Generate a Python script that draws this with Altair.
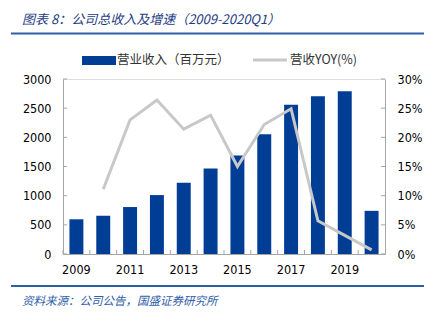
import altair as alt
import pandas as pd

years = ["2009", "2010", "2011", "2012", "2013", "2014", "2015", "2016", "2017", "2018", "2019", "2020Q1"]
revenue = [595, 655, 805, 1010, 1220, 1465, 1690, 2055, 2560, 2705, 2790, 740]
yoy_years = ["2010", "2011", "2012", "2013", "2014", "2015", "2016", "2017", "2018", "2019", "2020Q1"]
yoy_pct = [11.1, 23.0, 26.4, 21.4, 23.8, 15.0, 22.2, 24.9, 5.7, 3.2, 0.7]
left_ticks = [0, 500, 1000, 1500, 2000, 2500, 3000]
right_ticks = [0, 5, 10, 15, 20, 25, 30]
x_label_years = ["2009", "2011", "2013", "2015", "2017", "2019"]

title_text = "图表 8：公司总收入及增速（2009-2020Q1）"
source_text = "资料来源：公司公告，国盛证券研究所"
legend_bar = "营业收入（百万元）"
legend_line = "营收YOY(%)"

W, H = 322, 175
BLUE = "#003e96"
GREY_LINE = "#c8c8c8"
AXIS_GREY = "#a6a6a6"
NAVY = "#1f3c82"
RULE_BLUE = "#2f5ea8"
FONT = "DejaVu Sans Condensed, DejaVu Sans, sans-serif"
CJK = "Noto Sans CJK SC, sans-serif"

rev_df = pd.DataFrame({"year": years, "revenue": revenue})
yoy_df = pd.DataFrame({"year": yoy_years, "yoy": [v / 100 for v in yoy_pct]})
lt_df = pd.DataFrame({"v": left_ticks})
rt_df = pd.DataFrame({"v": [v / 100 for v in right_ticks]})
xt_df = pd.DataFrame({"year": years})

xscale = alt.Scale(domain=years, paddingInner=0.48, paddingOuter=0.24)
yl = alt.Scale(domain=[0, 3000], nice=False, zero=True)
yr = alt.Scale(domain=[0, 0.3], nice=False, zero=True)

bars = alt.Chart(rev_df).mark_bar(color=BLUE).encode(
    x=alt.X("year:N", scale=xscale, sort=years, title=None,
            axis=alt.Axis(values=x_label_years, labelAngle=0, tickSize=0, domainColor=AXIS_GREY,
                          labelFont=FONT, labelFontSize=12.5, labelColor="#000", labelPadding=9)),
    y=alt.Y("revenue:Q", scale=yl, title=None,
            axis=alt.Axis(values=left_ticks, format="d", orient="left", grid=False, tickSize=0,
                          domainColor=AXIS_GREY, labelFont=FONT, labelFontSize=12.5, labelColor="#000",
                          labelPadding=12)),
)

line = alt.Chart(yoy_df).mark_line(color=GREY_LINE, strokeWidth=3).encode(
    x=alt.X("year:N", scale=xscale, sort=years, bandPosition=0.5),
    y=alt.Y("yoy:Q", scale=yr, title=None,
            axis=alt.Axis(values=[v / 100 for v in right_ticks], format=".0%", orient="right", grid=False,
                          tickSize=0, domainColor=AXIS_GREY, labelFont=FONT, labelFontSize=12.5,
                          labelColor="#000", labelPadding=12)),
)

lticks = alt.Chart(lt_df).mark_rule(color=AXIS_GREY, strokeWidth=1).encode(
    y=alt.Y("v:Q", scale=yl, axis=None), x=alt.value(0), x2=alt.value(4))
rticks = alt.Chart(rt_df).mark_rule(color=AXIS_GREY, strokeWidth=1).encode(
    y=alt.Y("v:Q", scale=yr, axis=None), x=alt.value(W - 4), x2=alt.value(W))
xticks = alt.Chart(xt_df).mark_rule(color=AXIS_GREY, strokeWidth=1, xOffset=-6.44).encode(
    x=alt.X("year:N", scale=xscale, sort=years, bandPosition=0), y=alt.value(H - 4), y2=alt.value(H))

def txt(s, x, y, size, color, font, italic=False):
    return alt.Chart(pd.DataFrame({"t": [s]})).mark_text(
        align="left", baseline="middle", fontSize=size, color=color, font=font,
        fontStyle="italic" if italic else "normal").encode(text="t:N", x=alt.value(x), y=alt.value(y))

def hrule(x1, x2, y, color, width):
    return alt.Chart(pd.DataFrame({"a": [0]})).mark_rule(color=color, strokeWidth=width).encode(
        x=alt.value(x1), x2=alt.value(x2), y=alt.value(y))

title = txt(title_text, -41, -59, 13, NAVY, CJK, italic=True)
title_rule = hrule(-52, 361, -45.5, RULE_BLUE, 2)
src_rule = hrule(-52, 361, 207, RULE_BLUE, 2)
source = txt(source_text, -41, 223, 11.5, RULE_BLUE, CJK, italic=True)

leg_rect = alt.Chart(pd.DataFrame({"a": [0]})).mark_rect(color=BLUE).encode(
    x=alt.value(19), x2=alt.value(53), y=alt.value(-23), y2=alt.value(-14))
leg_rect_txt = txt(legend_bar, 54, -19, 12.5, "#333", CJK)
leg_line = alt.Chart(pd.DataFrame({"a": [0]})).mark_rule(color=GREY_LINE, strokeWidth=3).encode(
    x=alt.value(190), x2=alt.value(224), y=alt.value(-19))
leg_line_txt = txt(legend_line, 227, -19, 12.5, "#333", CJK)

chart = alt.layer(
    bars, line, lticks, rticks, xticks,
    title, title_rule, src_rule, source, leg_rect, leg_rect_txt, leg_line, leg_line_txt,
).resolve_scale(y="independent").properties(
    width=W, height=H,
    autosize=alt.AutoSizeParams(type="none"),
    padding={"left": 63, "top": 79, "right": 53, "bottom": 69},
).configure_view(stroke=None).configure(background="white")

chart.save("out.html", embed_options={"renderer": "svg", "actions": False})
